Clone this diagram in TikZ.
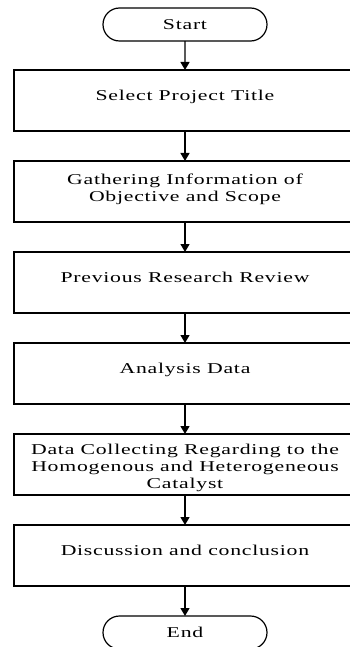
\documentclass[tikz,border=0pt]{standalone}
\usepackage{fontspec}
\newfontfamily\flowfont[FakeStretch=1.45,LetterSpace=5]{Liberation Serif}
\newcommand{\boxtext}[2][3pt]{\raisebox{#1}[\height][\depth]{\begin{tabular}{@{}c@{}}#2\end{tabular}}}
\usetikzlibrary{arrows.meta, positioning, shapes.misc}

\begin{document}
\begin{tikzpicture}[
      node distance=30pt,
      every node/.style={font=\flowfont\fontsize{15}{17}\selectfont, align=center, outer sep=0pt},
      terminal/.style={rounded rectangle, draw, line width=1.2pt, minimum width=164pt, minimum height=33pt, inner sep=0pt},
      process/.style={rectangle, draw, line width=1.4pt, minimum width=342pt, minimum height=61pt, inner sep=0pt},
      flow/.style={-{Triangle[length=8pt,width=9pt]}, line width=1.3pt}
    ]
      \useasboundingbox (0,0) rectangle (350pt,-647pt);
      \clip (0,0) rectangle (350pt,-647pt);

      \node[terminal] (start) at (185pt,-24.5pt) {Start};
      \node[process, below=29pt of start] (title) {\boxtext{Select Project Title}};
      \node[process, below=of title] (gather) {\boxtext[2pt]{Gathering Information of\\Objective and Scope}};
      \node[process, below=of gather] (review) {\boxtext{Previous Research Review}};
      \node[process, below=of review] (analysis) {\boxtext{Analysis Data}};
      \node[process, below=of analysis] (collect) {\boxtext[-4pt]{Data Collecting Regarding to the\\Homogenous and Heterogeneous\\Catalyst}};
      \node[process, below=of collect] (discuss) {\boxtext{Discussion and conclusion}};
      \node[terminal, below=of discuss] (end) {End};

      \draw[flow] (start) -- (title);
      \draw[flow] (title) -- (gather);
      \draw[flow] (gather) -- (review);
      \draw[flow] (review) -- (analysis);
      \draw[flow] (analysis) -- (collect);
      \draw[flow] (collect) -- (discuss);
      \draw[flow] (discuss) -- (end);
    \end{tikzpicture}
\end{document}
